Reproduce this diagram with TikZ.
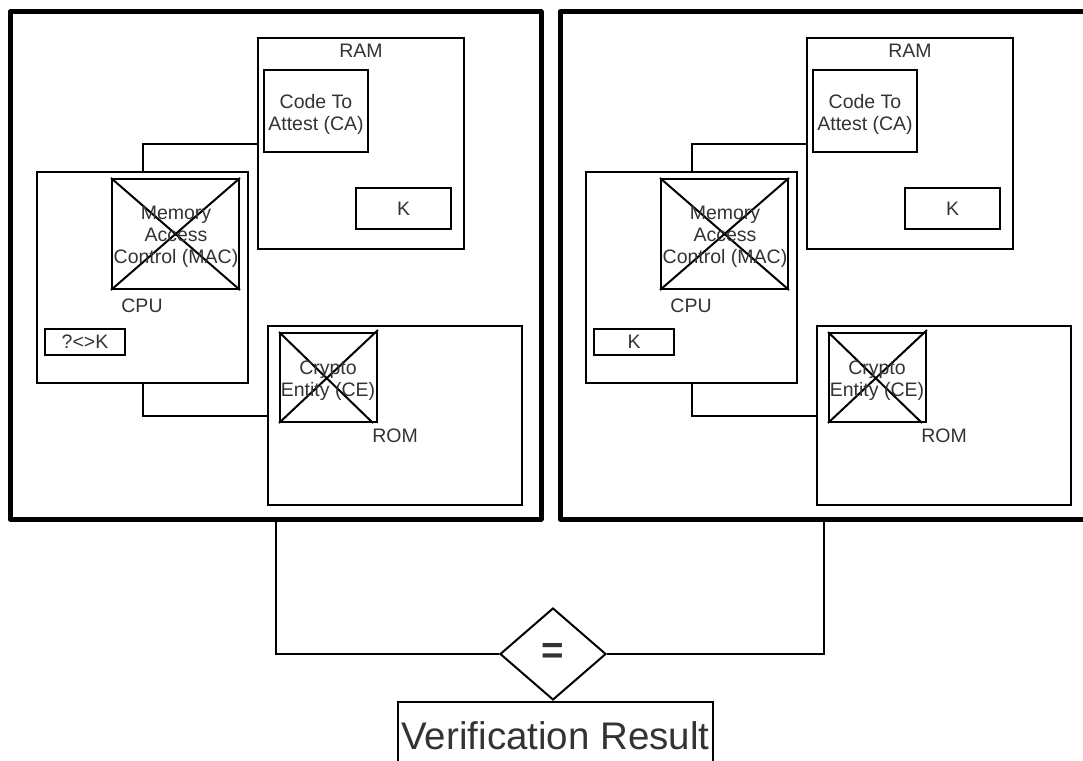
\documentclass[tikz,border=0pt]{standalone}
\usepackage{fontspec}
\setmainfont{Liberation Sans}
\usetikzlibrary{shapes.geometric}
\definecolor{txt}{HTML}{333333}
\tikzset{
  frame/.style={draw, line width=5pt, line join=round, inner sep=0pt},
  box/.style={draw, line width=2pt, inner sep=0pt},
  lbl/.style={text=txt, font=\fontsize{19.5}{22}\selectfont, align=center, inner sep=0pt},
  biglbl/.style={text=txt, font=\fontsize{38.5}{44}\selectfont, inner sep=0pt},
  wire/.style={line width=2pt},
  cross/.style={line width=2pt},
}
\newcommand\rbox[6][box]{%
  \node[#1, minimum width={(#5-#3)*1pt}, minimum height={(#6-#4)*1pt}] (#2) at ({(#3+#5)/2},{(#4+#6)/2}) {};}
\newcommand\drawpanel[2]{%
  \rbox{#1ram}{258}{38}{464}{249}
  \rbox{#1ca}{264}{70}{368}{152}
  \rbox{#1kram}{356}{188}{451}{229}
  \rbox{#1cpu}{37}{172}{248}{383}
  \rbox{#1mac}{112}{179}{239}{289}
  \rbox{#1kbox}{45}{329}{125}{355}
  \rbox{#1rom}{268}{326}{522}{505}
  \rbox{#1ce}{280}{333}{377}{422}
  \draw[cross] (#1mac.north west) -- (#1mac.south east) (#1mac.south west) -- (#1mac.north east);
  \draw[cross] (#1ce.north west) -- ([xshift=-5pt]#1ce.south east) (#1ce.south west) -- ([yshift=2pt]#1ce.north east);
  \draw[wire] (#1cpu.north) |- (#1ram.west);
  \draw[wire] (#1cpu.south) |- (#1rom.west);
  \node[lbl] (#1ramt) at (361,51) {RAM};
  \node[lbl] (#1cat) at (316,114) {Code To\\Attest (CA)};
  \node[lbl] (#1kramt) at (403.5,209) {K};
  \node[lbl] (#1mact) at (176,237) {Memory\\Access\\Control (MAC)};
  \node[lbl] (#1cput) at (142,306) {CPU};
  \node[lbl] (#1kboxt) at (85,342) {#2};
  \node[lbl] (#1cet) at (328,381) {Crypto\\Entity (CE)};
  \node[lbl] (#1romt) at (395,436) {ROM};
}
\begin{document}
\begin{tikzpicture}[x=1pt,y=-1pt]
  \useasboundingbox (0,0) rectangle (1083,760);
  % frames
  \rbox[frame]{frameA}{10}{12}{541}{519}
  \rbox[frame]{frameB}{560}{12}{1088}{519}
  % panels
  \drawpanel{L}{?<>K}
  \begin{scope}[xshift=549pt]
    \drawpanel{R}{K}
  \end{scope}
  % comparison
  \node[diamond, draw, line width=2pt, inner sep=0pt, minimum width=106pt, minimum height=92pt] (eq) at (553,654) {};
  \node[biglbl, font=\fontsize{38.5}{44}\selectfont\bfseries] (eqt) at (553,653) {=};
  \draw[wire] (frameA.south) |- (eq.west);
  \draw[wire] (frameB.south) |- (eq.east);
  \rbox{vres}{398}{702}{713}{800}
  \node[biglbl] (vrest) at (555.5,736) {Verification Result};
\end{tikzpicture}
\end{document}
